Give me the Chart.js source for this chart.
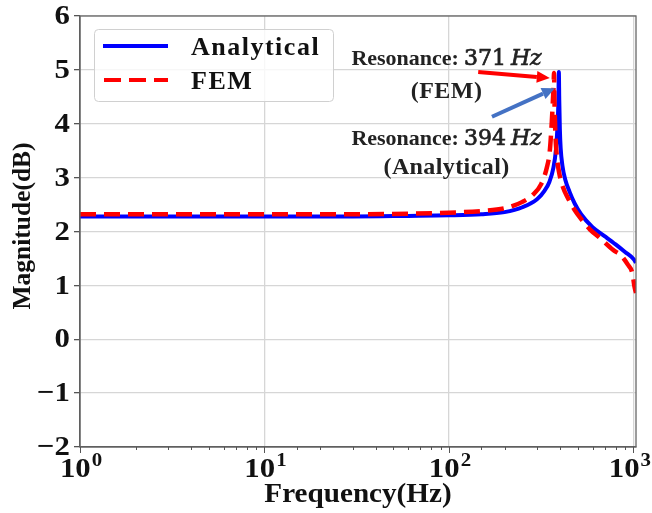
<!DOCTYPE html>
<html>
<head>
<meta charset="utf-8">
<title>Magnitude vs frequency</title>
<script src="https://cdn.jsdelivr.net/npm/chart.js@4.4.0/dist/chart.umd.min.js"></script>
<style>
  html, body { margin: 0; padding: 0; background: #fff; }
  #wrap { width: 652px; height: 513px; }
</style>
</head>
<body>
<div id="wrap"><canvas id="bode" width="652" height="513"></canvas></div>
<script>
// Frequency response: analytical model against FEM
const freqAnalytical = [1, 3, 10, 30, 60, 100, 150, 200, 250, 300, 330, 350, 368, 380, 388, 392, 394, 396, 399, 403, 412, 427, 450, 480, 520, 600, 700, 800, 900, 1000, 1032];
const magAnalytical  = [2.28, 2.28, 2.28, 2.28, 2.29, 2.30, 2.32, 2.36, 2.45, 2.60, 2.76, 2.92, 3.18, 3.52, 4.00, 4.45, 4.96, 4.45, 3.90, 3.55, 3.22, 2.96, 2.74, 2.52, 2.32, 2.08, 1.91, 1.76, 1.62, 1.49, 1.42];

const freqFem = [1, 3, 10, 30, 60, 100, 150, 206, 250, 285, 316, 340, 352, 361, 366, 369, 371, 373, 377, 383, 395, 415, 443, 480, 521, 580, 658, 774, 860, 934, 982, 1000, 1012, 1032];
const magFem  = [2.32, 2.32, 2.32, 2.32, 2.33, 2.35, 2.38, 2.44, 2.55, 2.68, 2.88, 3.20, 3.50, 4.05, 4.45, 4.70, 4.94, 4.45, 3.85, 3.45, 3.10, 2.82, 2.61, 2.40, 2.23, 2.04, 1.88, 1.66, 1.55, 1.38, 1.25, 1.10, 0.98, 0.86];

const seriesNames = ['Analytical', 'FEM'];
const resonanceFem = 371;
const resonanceAnalytical = 394;

const xDecades = [1, 10, 100, 1000];
const xExponents = ['0', '1', '2', '3'];
const yTicks = [-2, -1, 0, 1, 2, 3, 4, 5, 6];

const SERIF = '"Liberation Serif", "Times New Roman", serif';
const MATH = '"DejaVu Serif", serif';
const BLUE = '#0000ff';
const RED = '#ff0000';

const isDecade = v => {
  const l = Math.log10(v);
  return Math.abs(l - Math.round(l)) < 1e-9;
};

function text(ctx, str, x, y, font, align, baseline, sx) {
  ctx.save();
  ctx.font = font;
  ctx.textAlign = align;
  ctx.textBaseline = baseline;
  ctx.translate(x, y);
  ctx.scale(sx || 1, 1);
  ctx.fillText(str, 0, 0);
  ctx.restore();
}

function arrow(ctx, x0, y0, x1, y1, color) {
  const ang = Math.atan2(y1 - y0, x1 - x0);
  const len = 13, half = 6;
  const bx = x1 - len * Math.cos(ang), by = y1 - len * Math.sin(ang);
  ctx.save();
  ctx.strokeStyle = color;
  ctx.fillStyle = color;
  ctx.lineWidth = 4;
  ctx.beginPath();
  ctx.moveTo(x0, y0);
  ctx.lineTo(bx, by);
  ctx.stroke();
  ctx.beginPath();
  ctx.moveTo(x1, y1);
  ctx.lineTo(bx - half * Math.sin(ang), by + half * Math.cos(ang));
  ctx.lineTo(bx + half * Math.sin(ang), by - half * Math.cos(ang));
  ctx.closePath();
  ctx.fill();
  ctx.restore();
}

// one line of "Resonance: NNN Hz", centred on cx
function resonanceLine(ctx, cx, y, hz) {
  const parts = [
    { s: 'Resonance:', f: 'bold 22px ' + SERIF, gap: 5, thick: false },
    { s: String(hz), f: '22px ' + MATH, gap: 5, thick: true },
    { s: 'Hz', f: 'italic 22px ' + MATH, gap: 0, thick: true }
  ];
  ctx.save();
  let total = 0;
  parts.forEach(p => { ctx.font = p.f; p.w = ctx.measureText(p.s).width; total += p.w + p.gap; });
  let x = cx - total / 2;
  ctx.fillStyle = '#222';
  ctx.strokeStyle = '#222';
  ctx.lineWidth = 0.7;
  ctx.textBaseline = 'alphabetic';
  ctx.textAlign = 'left';
  parts.forEach(p => {
    ctx.font = p.f;
    ctx.fillText(p.s, x, y);
    if (p.thick) ctx.strokeText(p.s, x, y);
    x += p.w + p.gap;
  });
  ctx.restore();
}

const decor = {
  id: 'decor',
  afterDraw(chart) {
    const { ctx, chartArea: a, scales: { x, y } } = chart;

    // plot frame
    ctx.save();
    ctx.strokeStyle = '#666';
    ctx.lineWidth = 1.3;
    ctx.strokeRect(a.left, a.top, a.right - a.left, a.bottom - a.top);

    // x tick marks: long at decades, short for the minor ones
    ctx.strokeStyle = '#555';
    ctx.lineWidth = 1;
    x.ticks.forEach(t => {
      if (t.value > 1000) return;
      const px = Math.round(x.getPixelForValue(t.value)) + 0.5;
      const len = isDecade(t.value) ? 6 : 3;
      ctx.beginPath();
      ctx.moveTo(px, a.bottom);
      ctx.lineTo(px, a.bottom + len);
      ctx.stroke();
    });
    ctx.restore();

    ctx.fillStyle = '#111';
    // y tick labels
    yTicks.forEach(v => {
      const lbl = v < 0 ? '\u2212' + Math.abs(v) : String(v);
      text(ctx, lbl, 70, y.getPixelForValue(v) + 1, 'bold 28px ' + SERIF, 'right', 'middle', 1.1);
    });
    // x tick labels: "10" with a raised exponent, centred as a whole on the tick
    const W = chart.width;
    xDecades.forEach((d, i) => {
      const px = x.getPixelForValue(d);
      ctx.font = 'bold 28px ' + SERIF;
      const wBase = ctx.measureText('10').width * 1.1;
      ctx.font = 'bold 19px ' + SERIF;
      const wExp = ctx.measureText(xExponents[i]).width * 1.1;
      const total = wBase + 1 + wExp;
      const left = Math.min(px + 1 - total / 2, W - total - 1);
      text(ctx, '10', left, a.bottom + 9, 'bold 28px ' + SERIF, 'left', 'top', 1.1);
      text(ctx, xExponents[i], left + wBase + 1, a.bottom + 19, 'bold 19px ' + SERIF, 'left', 'alphabetic', 1.1);
    });

    // axis titles
    text(ctx, 'Frequency(Hz)', (a.left + a.right) / 2, 502, 'bold 27px ' + SERIF, 'center', 'alphabetic', 1.08);
    ctx.save();
    ctx.translate(30, 226);
    ctx.rotate(-Math.PI / 2);
    text(ctx, 'Magnitude(dB)', 0, 0, 'bold 25px ' + SERIF, 'center', 'alphabetic', 1.02);
    ctx.restore();

    // legend
    ctx.save();
    ctx.fillStyle = 'rgba(255,255,255,0.8)';
    ctx.strokeStyle = '#d0d0d0';
    ctx.lineWidth = 1;
    ctx.beginPath();
    ctx.roundRect(94.5, 29.5, 239, 72, 4);
    ctx.fill();
    ctx.stroke();
    ctx.lineWidth = 4;
    ctx.strokeStyle = BLUE;
    ctx.beginPath(); ctx.moveTo(103, 46); ctx.lineTo(168, 46); ctx.stroke();
    ctx.strokeStyle = RED;
    ctx.setLineDash([17, 8]);
    ctx.beginPath(); ctx.moveTo(104, 80); ctx.lineTo(168, 80); ctx.stroke();
    ctx.setLineDash([]);
    ctx.fillStyle = '#111';
    ctx.font = 'bold 26px ' + SERIF;
    ctx.letterSpacing = '1.5px';
    ctx.textBaseline = 'alphabetic';
    ctx.fillText(seriesNames[0], 191, 55);
    ctx.fillText(seriesNames[1], 191, 89);
    ctx.restore();

    // resonance annotations
    const cx = x.getPixelForValue(97);
    resonanceLine(ctx, cx, y.getPixelForValue(5.09), resonanceFem);
    ctx.save();
    ctx.fillStyle = '#222';
    ctx.letterSpacing = '0.5px';
    text(ctx, '(FEM)', cx, y.getPixelForValue(4.48), 'bold 24px ' + SERIF, 'center', 'alphabetic', 1);
    ctx.restore();
    resonanceLine(ctx, cx, y.getPixelForValue(3.61), resonanceAnalytical);
    ctx.save();
    ctx.fillStyle = '#222';
    ctx.letterSpacing = '0.4px';
    text(ctx, '(Analytical)', cx, y.getPixelForValue(3.07), 'bold 24px ' + SERIF, 'center', 'alphabetic', 1);
    ctx.restore();

    arrow(ctx, x.getPixelForValue(144), y.getPixelForValue(4.96),
               x.getPixelForValue(352), y.getPixelForValue(4.85), RED);
    arrow(ctx, x.getPixelForValue(171), y.getPixelForValue(4.13),
               x.getPixelForValue(375), y.getPixelForValue(4.66), '#4472c4');
  }
};

const toPoints = (xs, ys) => xs.map((f, i) => ({ x: f, y: ys[i] }));

new Chart(document.getElementById('bode'), {
  type: 'line',
  data: {
    datasets: [{
      label: seriesNames[0],
      data: toPoints(freqAnalytical, magAnalytical),
      borderColor: BLUE,
      borderWidth: 4,
      pointRadius: 0,
      cubicInterpolationMode: 'monotone',
      order: 1
    }, {
      label: seriesNames[1],
      data: toPoints(freqFem, magFem),
      borderColor: RED,
      borderWidth: 4.5,
      borderDash: [16, 8],
      pointRadius: 0,
      cubicInterpolationMode: 'monotone',
      order: 0
    }]
  },
  options: {
    responsive: false,
    animation: false,
    layout: { padding: { top: 16, right: 16, left: 0, bottom: 0 } },
    plugins: { legend: { display: false }, tooltip: { enabled: false } },
    scales: {
      x: {
        type: 'logarithmic',
        min: 1,
        max: 1032,
        ticks: { display: false, autoSkip: false },
        grid: {
          color: c => (c.tick && isDecade(c.tick.value) && c.tick.value < 1001) ? '#d6d6d6' : 'rgba(0,0,0,0)',
          lineWidth: 1.3,
          drawTicks: false
        },
        border: { display: true, color: '#555', width: 1.3 },
        afterFit: s => { s.height = 66; }
      },
      y: {
        min: -2,
        max: 6,
        ticks: { display: false, stepSize: 1 },
        grid: {
          color: '#d6d6d6',
          lineWidth: 1.3,
          drawTicks: true,
          tickLength: 6,
          tickColor: '#555'
        },
        border: { display: true, color: '#555', width: 1.3 },
        afterFit: s => { s.width = 80; }
      }
    }
  },
  plugins: [decor]
});
</script>
</body>
</html>
